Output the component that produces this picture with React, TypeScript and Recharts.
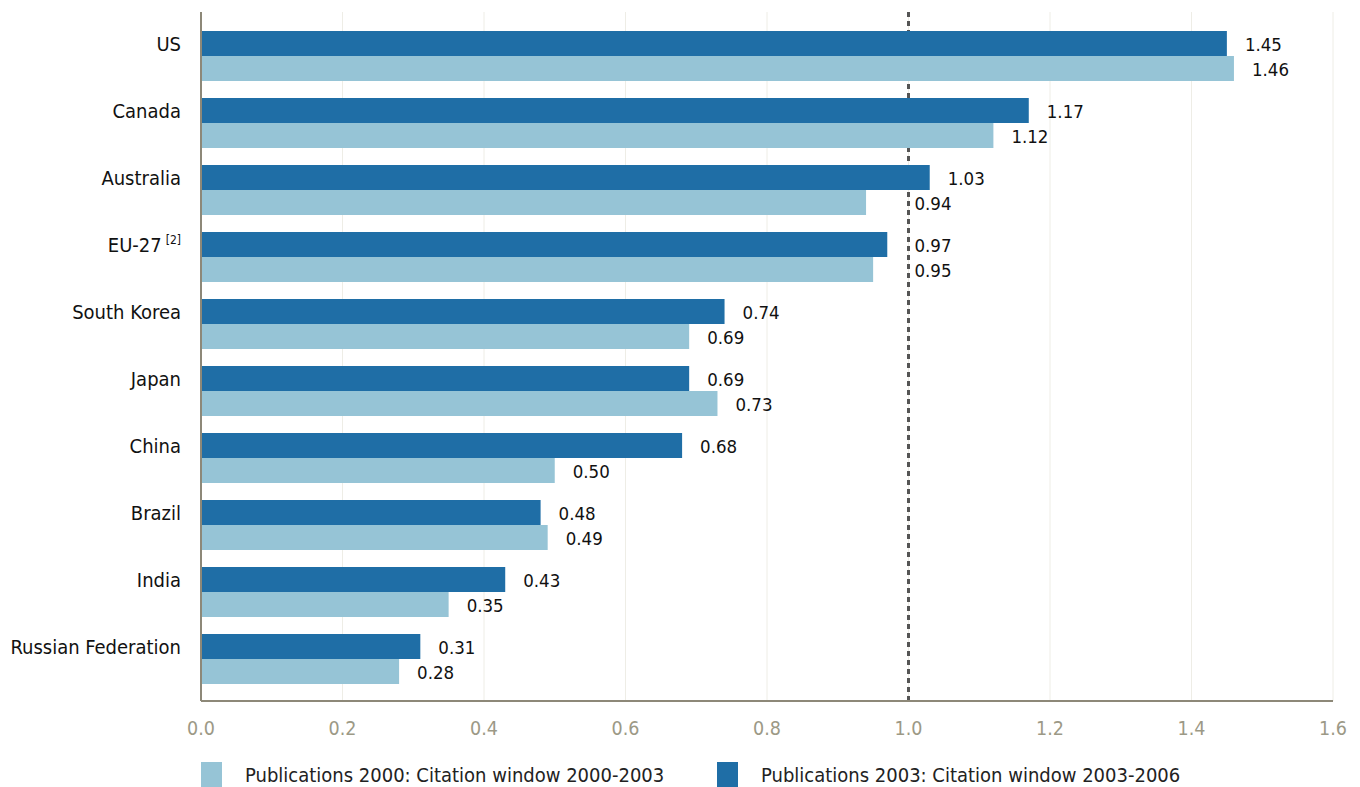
import React from "react";
import {
  BarChart,
  Bar,
  XAxis,
  YAxis,
  CartesianGrid,
  LabelList,
  Legend,
} from "recharts";

const countries = [
  "US",
  "Canada",
  "Australia",
  "EU-27",
  "South Korea",
  "Japan",
  "China",
  "Brazil",
  "India",
  "Russian Federation",
];
const pub2003 = [1.45, 1.17, 1.03, 0.97, 0.74, 0.69, 0.68, 0.48, 0.43, 0.31];
const pub2000 = [1.46, 1.12, 0.94, 0.95, 0.69, 0.73, 0.5, 0.49, 0.35, 0.28];
const footnotes: Record<string, string> = { "EU-27": "[2]" };
const xTicks = [0, 0.2, 0.4, 0.6, 0.8, 1.0, 1.2, 1.4, 1.6];
const xMax = 1.6;
const parity = 1.0;
const series2000 = "Publications 2000: Citation window 2000-2003";
const series2003 = "Publications 2003: Citation window 2003-2006";

const FONT = "'DejaVu Sans Condensed', 'DejaVu Sans', sans-serif";
const DARK = "#1f6ea6";
const LIGHT = "#96c4d6";
const AXIS = "#8d8878";
const GRID = "#eeede6";

const data = countries.map((name, i) => ({
  name,
  v2003: pub2003[i],
  v2000: pub2000[i],
}));

// country names sit level with the upper (2003) bar
function CountryTick(props: any) {
  const { x, y, payload } = props;
  const note = footnotes[payload.value];
  return (
    <text
      x={x - 12}
      y={y - 12}
      dy="0.36em"
      textAnchor="end"
      fontFamily={FONT}
      fontSize={20}
      fill="#111"
    >
      {payload.value}
      {note && (
        <tspan fontSize={12} dx={4} dy={-8}>
          {note}
        </tspan>
      )}
    </text>
  );
}

// value labels keep clear of the dotted 1.0 line
function ValueLabel(props: any) {
  const { x, y, width, height, value } = props;
  const end = x + width;
  const oneAt = x + (width / value) * parity;
  let lx = end + 18;
  if (lx < oneAt + 6 && end + 60 > oneAt) lx = oneAt + 6;
  return (
    <text
      x={lx}
      y={y + height / 2 + 1}
      dy="0.36em"
      fontFamily={FONT}
      fontSize={18.5}
      fill="#111"
    >
      {Number(value).toFixed(2)}
    </text>
  );
}

// x position of the parity value for the grid generator
function parityX({ xAxis, offset }: any) {
  if (xAxis && typeof xAxis.scale === "function") return [xAxis.scale(parity)];
  return [offset.left + (offset.width * parity) / xMax];
}

function LegendBox() {
  const item = (color: string, label: string, w?: number) => (
    <div style={{ display: "flex", alignItems: "flex-start", width: w }}>
      <div style={{ width: 21, height: 25, marginTop: 5, background: color }} />
      <span style={{ marginLeft: 23, marginTop: 6, lineHeight: "24px" }}>{label}</span>
    </div>
  );
  return (
    <div
      style={{
        display: "flex",
        height: 30,
        paddingLeft: 201,
        fontFamily: FONT,
        fontSize: 20,
        color: "#222",
      }}
    >
      {item(LIGHT, series2000, 516)}
      {item(DARK, series2003)}
    </div>
  );
}

export default function App() {
  return (
    <div style={{ position: "absolute", left: 0, top: 0, background: "#fff" }}>
      <BarChart
        width={1360}
        height={787}
        data={data}
        layout="vertical"
        margin={{ top: 12, right: 27, bottom: 0, left: 11 }}
        barCategoryGap={9}
        barGap={0}
      >
        <CartesianGrid horizontal={false} stroke={GRID} />
        {/* dotted parity line, drawn as a grid line so it stays behind the bars */}
        <CartesianGrid
          horizontal={false}
          stroke="#555"
          strokeWidth={3}
          strokeDasharray="5 4"
          verticalCoordinatesGenerator={parityX}
        />
        <XAxis
          type="number"
          domain={[0, xMax]}
          ticks={xTicks}
          tickFormatter={(v: number) => v.toFixed(1)}
          axisLine={{ stroke: AXIS, strokeWidth: 2 }}
          tickLine={false}
          tick={{ fill: "#9c9986", fontSize: 19.5, fontFamily: FONT }}
          tickMargin={14}
          height={56}
        />
        <XAxis
          xAxisId="top"
          orientation="top"
          type="number"
          domain={[0, xMax]}
          tick={false}
          tickLine={false}
          axisLine={{ stroke: GRID, strokeWidth: 2 }}
          height={0}
        />
        <YAxis
          type="category"
          dataKey="name"
          width={190}
          axisLine={{ stroke: AXIS, strokeWidth: 2 }}
          tickLine={false}
          tick={<CountryTick />}
          padding={{ top: 10, bottom: 9 }}
          interval={0}
        />
        <YAxis
          yAxisId="right"
          orientation="right"
          type="category"
          dataKey="name"
          width={0}
          tick={false}
          tickLine={false}
          axisLine={{ stroke: AXIS, strokeWidth: 2 }}
        />
        <Bar dataKey="v2003" name={series2003} fill={DARK} isAnimationActive={false}>
          <LabelList dataKey="v2003" content={<ValueLabel />} />
        </Bar>
        <Bar dataKey="v2000" name={series2000} fill={LIGHT} isAnimationActive={false}>
          <LabelList dataKey="v2000" content={<ValueLabel />} />
        </Bar>
        <Legend
          verticalAlign="bottom"
          content={<LegendBox />}
          wrapperStyle={{ left: 0, bottom: 0, width: 1360, height: 30 }}
        />
      </BarChart>
    </div>
  );
}
